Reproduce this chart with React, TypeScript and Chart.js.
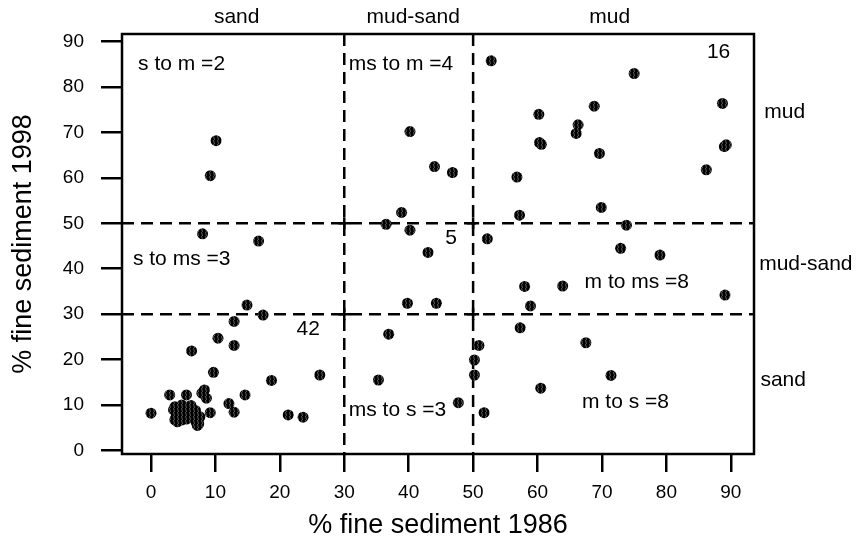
import React, { useEffect, useRef } from 'react';
import { Chart, registerables } from 'chart.js';

Chart.register(...registerables);

// ---------------- data ----------------
// % fine sediment in 1986 (x) and 1998 (y) for each station
const FINE_1986 = [
  // sand -> mud
  10.1, 9.2,
  // sand -> mud-sand
  8.0, 16.7, 14.9,
  // sand -> sand
  17.4, 12.9, 10.4, 12.9, 6.3, 9.7, 18.7, 26.2, 14.6, 2.9, 5.5, 7.9, 8.6, 8.3, 12.1, 12.9, 0.0, 9.2, 21.3, 23.6,
  3.7, 4.8, 3.7, 4.8, 5.8, 6.6, 7.3, 7.6, 4.2, 5.2, 3.9, 6.2, 7.0, 4.5, 5.5, 3.5, 6.9, 7.4, 4.1, 5.0, 6.0, 7.2,
  // mud-sand -> mud
  40.2, 44.0, 46.8, 38.9,
  // mud-sand -> mud-sand
  36.5, 40.2, 43.0, 39.8, 44.3,
  // mud-sand -> sand
  36.9, 35.3, 47.7,
  // mud -> mud
  52.8, 75.0, 88.7, 60.2, 68.8, 66.3, 66.0, 60.3, 60.6, 89.3, 89.0, 69.6, 56.8, 86.2, 69.9, 57.2,
  // mud -> mud-sand
  52.2, 73.8, 72.9, 79.0, 58.0, 63.9, 58.9, 89.1,
  // mud -> sand
  57.3, 67.5, 71.4, 60.5, 50.9, 50.2, 50.2, 51.7,
];

const FINE_1998 = [
  68.2, 60.5,
  47.7, 46.1, 32.0,
  29.8, 28.4, 24.7, 23.1, 21.9, 17.2, 15.4, 16.6, 12.2, 12.2, 12.2, 12.6, 11.5, 13.3, 10.3, 8.4, 8.2, 8.3, 7.8, 7.3,
  9.6, 10.0, 6.7, 6.7, 8.5, 7.1, 5.6, 7.4, 8.2, 9.2, 7.5, 9.9, 6.2, 7.8, 6.9, 8.9, 8.8, 5.9, 6.3, 8.0, 7.8, 5.5,
  70.2, 62.5, 61.2, 52.4,
  49.8, 48.5, 43.6, 32.4, 32.4,
  25.6, 15.5, 10.5,
  85.8, 83.0, 76.4, 74.0, 75.8, 71.7, 69.8, 67.8, 67.4, 67.3, 66.9, 65.4, 60.2, 61.8, 53.5, 51.8,
  46.6, 49.6, 44.5, 43.0, 36.1, 36.2, 31.8, 34.2,
  27.0, 23.7, 16.5, 13.7, 23.1, 19.9, 16.6, 8.3,
];

const X_TICKS = [0, 10, 20, 30, 40, 50, 60, 70, 80, 90];
const Y_TICKS = [0, 10, 20, 30, 40, 50, 60, 70, 80, 90];
const CLASS_BOUNDS = [30, 50];
const CLASS_NAMES = ['sand', 'mud-sand', 'mud'];
const TRANSITION_TEXTS = [
  's to m =2', 's to ms =3', '42',
  'ms to m =4', '5', 'ms to s =3',
  '16', 'm to ms =8', 'm to s =8',
];
const X_TITLE = '% fine sediment 1986';
const Y_TITLE = '% fine sediment 1998';

// ---------------- layout (data-space anchors for texts) ----------------
const X_MIN = -4.5;
const X_MAX = 93.6;
const Y_MIN = -0.8;
const Y_MAX = 91.7;

// [x, y, align] for each transition text, in data units
const TRANSITION_POS: [number, number, CanvasTextAlign][] = [
  [-2.0, 85.1, 'left'], [-2.8, 42.2, 'left'], [24.4, 26.7, 'center'],
  [30.7, 85.1, 'left'], [46.6, 46.8, 'center'], [30.7, 8.9, 'left'],
  [88.1, 87.7, 'center'], [67.3, 37.1, 'left'], [66.9, 10.5, 'left'],
];
const TOP_POS: [number, number][] = [[13.3, 95.3], [40.7, 95.3], [71.2, 95.3]];
const RIGHT_POS: [number, number][] = [[95.2, 74.5], [94.4, 40.9], [94.6, 15.5]];

const FONT = '"Liberation Sans", Arial, Helvetica, sans-serif';

const overlayPlugin = {
  id: 'sedimentOverlay',
  beforeDatasetsDraw(chart: any) {
    const { ctx, chartArea } = chart;
    const xs = chart.scales.x;
    const ys = chart.scales.y;
    ctx.save();
    ctx.strokeStyle = '#000';
    ctx.lineWidth = 2.5;
    ctx.setLineDash([12, 7]);
    CLASS_BOUNDS.forEach((b) => {
      const px = xs.getPixelForValue(b);
      ctx.beginPath();
      ctx.moveTo(px, chartArea.top);
      ctx.lineTo(px, chartArea.bottom);
      ctx.stroke();
      const py = ys.getPixelForValue(b);
      ctx.beginPath();
      ctx.moveTo(chartArea.left, py);
      ctx.lineTo(chartArea.right, py);
      ctx.stroke();
    });
    ctx.setLineDash([]);
    CLASS_BOUNDS.forEach((bx) => {
      CLASS_BOUNDS.forEach((by) => {
        const px = xs.getPixelForValue(bx);
        const py = ys.getPixelForValue(by);
        ctx.beginPath();
        ctx.moveTo(px - 6, py);
        ctx.lineTo(px + 6, py);
        ctx.moveTo(px, py - 6);
        ctx.lineTo(px, py + 6);
        ctx.stroke();
      });
    });
    ctx.restore();
  },
  afterDatasetsDraw(chart: any) {
    const { ctx, chartArea } = chart;
    const xs = chart.scales.x;
    const ys = chart.scales.y;
    ctx.save();
    ctx.strokeStyle = '#000';
    ctx.lineWidth = 2.5;
    ctx.strokeRect(chartArea.left, chartArea.top, chartArea.right - chartArea.left, chartArea.bottom - chartArea.top);
    ctx.fillStyle = '#000';
    ctx.textBaseline = 'middle';
    ctx.font = `21px ${FONT}`;
    TRANSITION_TEXTS.forEach((t, i) => {
      const [x, y, al] = TRANSITION_POS[i];
      ctx.textAlign = al;
      ctx.fillText(t, xs.getPixelForValue(x), ys.getPixelForValue(y));
    });
    ctx.textAlign = 'center';
    CLASS_NAMES.forEach((t, i) => {
      const [x, y] = TOP_POS[i];
      ctx.fillText(t, xs.getPixelForValue(x), ys.getPixelForValue(y));
    });
    ctx.textAlign = 'left';
    const rightNames = [CLASS_NAMES[2], CLASS_NAMES[1], CLASS_NAMES[0]];
    rightNames.forEach((t, i) => {
      const [x, y] = RIGHT_POS[i];
      ctx.fillText(t, xs.getPixelForValue(x), ys.getPixelForValue(y));
    });
    ctx.restore();
  },
};

function makeDotPattern(): CanvasPattern | string {
  const pc = document.createElement('canvas');
  pc.width = 4;
  pc.height = 4;
  const g = pc.getContext('2d');
  if (!g) return '#000';
  g.fillStyle = '#000';
  g.fillRect(0, 0, 4, 4);
  g.strokeStyle = 'rgba(150,150,150,0.9)';
  g.lineWidth = 0.7;
  g.beginPath();
  g.moveTo(1.5, 0);
  g.lineTo(2.5, 4);
  g.stroke();
  return g.createPattern(pc, 'repeat') || '#000';
}

export default function App() {
  const canvasRef = useRef<HTMLCanvasElement | null>(null);

  useEffect(() => {
    document.body.style.margin = '0';
    const canvas = canvasRef.current;
    if (!canvas) return;
    const points = FINE_1986.map((x, i) => ({ x, y: FINE_1998[i] }));
    const pattern = makeDotPattern();
    const chart = new Chart(canvas, {
      type: 'scatter',
      data: {
        datasets: [
          {
            data: points,
            pointRadius: 5.5,
            pointHoverRadius: 5.5,
            pointBackgroundColor: pattern as any,
            pointBorderWidth: 0,
            pointBorderColor: '#000',
          },
        ],
      },
      options: {
        animation: false,
        responsive: true,
        maintainAspectRatio: false,
        devicePixelRatio: 1,
        layout: { padding: { left: 0, top: 34, right: 106, bottom: 0 } },
        plugins: { legend: { display: false }, tooltip: { enabled: false } },
        scales: {
          x: {
            type: 'linear',
            min: X_MIN,
            max: X_MAX,
            afterBuildTicks: (s: any) => {
              s.ticks = X_TICKS.map((v) => ({ value: v }));
            },
            afterFit: (s: any) => {
              s.height = 88;
            },
            border: { display: false },
            grid: { drawOnChartArea: false, drawTicks: true, tickLength: 18, color: '#000', lineWidth: 2.5 },
            ticks: { color: '#000', font: { family: FONT, size: 19 }, padding: 9, maxRotation: 0, autoSkip: false },
            title: { display: true, text: X_TITLE, color: '#000', font: { family: FONT, size: 27 }, padding: { top: 0, bottom: 0 } },
          },
          y: {
            type: 'linear',
            min: Y_MIN,
            max: Y_MAX,
            afterBuildTicks: (s: any) => {
              s.ticks = Y_TICKS.map((v) => ({ value: v }));
            },
            afterFit: (s: any) => {
              s.width = 122;
            },
            border: { display: false },
            grid: { drawOnChartArea: false, drawTicks: true, tickLength: 21, color: '#000', lineWidth: 2.5 },
            ticks: { color: '#000', font: { family: FONT, size: 19 }, padding: 17, autoSkip: false },
            title: { display: true, text: Y_TITLE, color: '#000', font: { family: FONT, size: 27 }, padding: { top: 7, bottom: 0 } },
          },
        },
      },
      plugins: [overlayPlugin],
    });
    return () => chart.destroy();
  }, []);

  return (
    <div style={{ position: 'absolute', left: 0, top: 0, width: 860, height: 542, background: '#fff' }}>
      <canvas ref={canvasRef} />
    </div>
  );
}
